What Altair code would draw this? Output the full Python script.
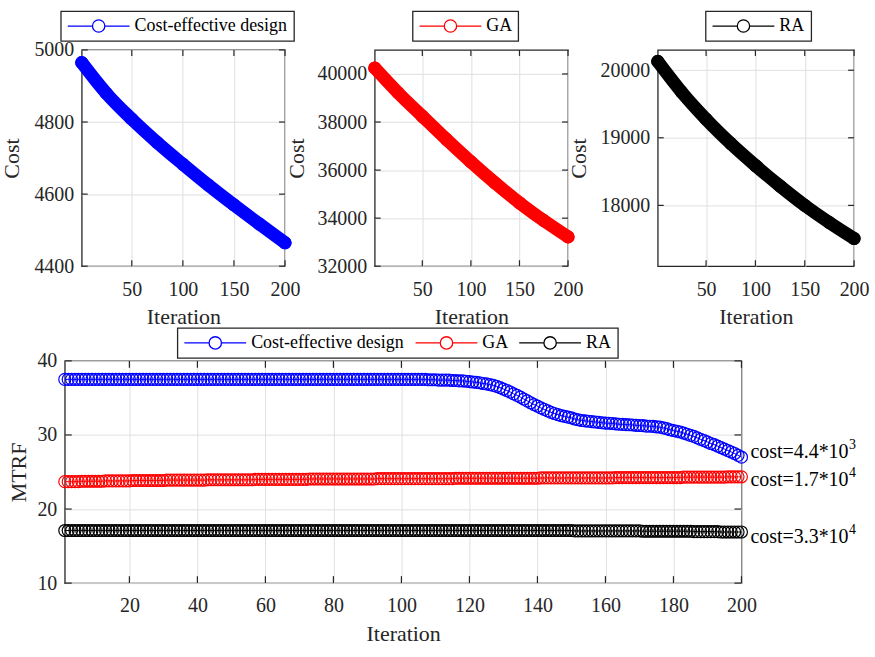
import altair as alt
import pandas as pd

FONT = "Liberation Serif"
INK = "#262626"
GRID = "#dfdfdf"
# legend glyph: a short line with an open circle in its middle
LEGEND_SYMBOL = "M-1,0L-0.2,0M0.2,0L1,0M-0.2,0A0.2,0.2,0,1,1,0.2,0A0.2,0.2,0,1,1,-0.2,0"

series_names = ["Cost-effective design", "GA", "RA"]
series_colors = ["#0000ff", "#ff0000", "#000000"]

# cost per iteration (upper panels), sampled along each curve
cost_iterations = [1, 25, 50, 75, 100, 125, 150, 175, 200]
cost_effective_cost = [4965, 4880, 4808, 4743, 4683, 4625, 4570, 4517, 4465]
ga_cost = [40250, 39220, 38240, 37270, 36340, 35460, 34640, 33900, 33220]
ra_cost = [20130, 19680, 19275, 18915, 18590, 18285, 18000, 17745, 17510]

# MTRF per iteration (lower panel)
iterations = list(range(1, 201))
mtrf_cost_effective = [
    37.5, 37.5, 37.5, 37.5, 37.5, 37.5, 37.5, 37.5, 37.5, 37.5, 37.5, 37.5, 37.5, 37.5, 37.5, 37.5, 37.5, 37.5, 37.5, 37.5,
    37.5, 37.5, 37.5, 37.5, 37.5, 37.5, 37.5, 37.5, 37.5, 37.5, 37.5, 37.5, 37.5, 37.5, 37.5, 37.5, 37.5, 37.5, 37.5, 37.5,
    37.5, 37.5, 37.5, 37.5, 37.5, 37.5, 37.5, 37.5, 37.5, 37.5, 37.5, 37.5, 37.5, 37.5, 37.5, 37.5, 37.5, 37.5, 37.5, 37.5,
    37.5, 37.5, 37.5, 37.5, 37.5, 37.5, 37.5, 37.5, 37.5, 37.5, 37.5, 37.5, 37.5, 37.5, 37.5, 37.5, 37.5, 37.5, 37.5, 37.5,
    37.5, 37.5, 37.5, 37.5, 37.5, 37.5, 37.5, 37.5, 37.5, 37.5, 37.5, 37.5, 37.5, 37.5, 37.5, 37.5, 37.5, 37.5, 37.5, 37.5,
    37.5, 37.5, 37.5, 37.5, 37.5, 37.5, 37.5, 37.45, 37.45, 37.45, 37.4, 37.4, 37.4, 37.4, 37.35, 37.35, 37.3, 37.3, 37.25, 37.2,
    37.15, 37.1, 37.05, 36.95, 36.9, 36.8, 36.7, 36.55, 36.4, 36.2, 36.0, 35.8, 35.55, 35.35, 35.1, 34.85, 34.6, 34.35, 34.1, 33.9,
    33.65, 33.45, 33.25, 33.05, 32.9, 32.75, 32.6, 32.5, 32.4, 32.3, 32.15, 32.05, 31.95, 31.9, 31.85, 31.8, 31.75, 31.7, 31.65, 31.6,
    31.58, 31.55, 31.5, 31.45, 31.43, 31.4, 31.38, 31.35, 31.3, 31.28, 31.25, 31.2, 31.18, 31.15, 31.1, 31.05, 30.95, 30.85, 30.7, 30.6,
    30.5, 30.4, 30.25, 30.1, 29.95, 29.8, 29.6, 29.4, 29.25, 29.05, 28.85, 28.7, 28.5, 28.3, 28.1, 27.9, 27.7, 27.5, 27.25, 27.0,
]
mtrf_ga = [
    23.7, 23.7, 23.7, 23.7, 23.7, 23.75, 23.75, 23.75, 23.75, 23.75, 23.75, 23.75, 23.8, 23.8, 23.8, 23.8, 23.8, 23.8, 23.8, 23.8,
    23.85, 23.85, 23.85, 23.85, 23.85, 23.85, 23.85, 23.85, 23.85, 23.85, 23.9, 23.9, 23.9, 23.9, 23.9, 23.9, 23.9, 23.9, 23.9, 23.9,
    23.9, 23.9, 23.95, 23.95, 23.95, 23.95, 23.95, 23.95, 23.95, 23.95, 23.95, 23.95, 23.95, 23.95, 23.95, 23.95, 24.0, 24.0, 24.0, 24.0,
    24.0, 24.0, 24.0, 24.0, 24.0, 24.0, 24.0, 24.0, 24.0, 24.0, 24.0, 24.0, 24.05, 24.05, 24.05, 24.05, 24.05, 24.05, 24.05, 24.05,
    24.05, 24.05, 24.05, 24.05, 24.05, 24.05, 24.05, 24.05, 24.05, 24.05, 24.05, 24.05, 24.1, 24.1, 24.1, 24.1, 24.1, 24.1, 24.1, 24.1,
    24.1, 24.1, 24.1, 24.1, 24.1, 24.1, 24.1, 24.1, 24.1, 24.1, 24.1, 24.1, 24.1, 24.1, 24.1, 24.15, 24.15, 24.15, 24.15, 24.15,
    24.15, 24.15, 24.15, 24.15, 24.15, 24.15, 24.15, 24.15, 24.15, 24.15, 24.15, 24.15, 24.15, 24.15, 24.15, 24.15, 24.15, 24.15, 24.15, 24.15,
    24.2, 24.2, 24.2, 24.2, 24.2, 24.2, 24.2, 24.2, 24.2, 24.2, 24.2, 24.2, 24.2, 24.2, 24.2, 24.2, 24.2, 24.2, 24.2, 24.2,
    24.2, 24.2, 24.25, 24.25, 24.25, 24.25, 24.25, 24.25, 24.25, 24.25, 24.25, 24.25, 24.25, 24.25, 24.25, 24.25, 24.25, 24.25, 24.25, 24.25,
    24.25, 24.25, 24.3, 24.3, 24.3, 24.3, 24.3, 24.3, 24.3, 24.3, 24.3, 24.3, 24.3, 24.3, 24.3, 24.35, 24.35, 24.35, 24.35, 24.35,
]
mtrf_ra = [
    17.1, 17.1, 17.1, 17.1, 17.1, 17.1, 17.1, 17.1, 17.1, 17.1, 17.1, 17.1, 17.1, 17.1, 17.1, 17.1, 17.1, 17.1, 17.1, 17.1,
    17.1, 17.1, 17.1, 17.1, 17.1, 17.1, 17.1, 17.1, 17.1, 17.1, 17.1, 17.1, 17.1, 17.1, 17.1, 17.1, 17.1, 17.1, 17.1, 17.1,
    17.1, 17.1, 17.1, 17.1, 17.1, 17.1, 17.1, 17.1, 17.1, 17.1, 17.1, 17.1, 17.1, 17.1, 17.1, 17.1, 17.1, 17.1, 17.1, 17.1,
    17.1, 17.1, 17.1, 17.1, 17.1, 17.1, 17.1, 17.1, 17.1, 17.1, 17.1, 17.1, 17.1, 17.1, 17.1, 17.1, 17.1, 17.1, 17.1, 17.1,
    17.1, 17.1, 17.1, 17.1, 17.1, 17.1, 17.1, 17.1, 17.1, 17.1, 17.1, 17.1, 17.1, 17.1, 17.1, 17.1, 17.1, 17.1, 17.1, 17.1,
    17.1, 17.1, 17.1, 17.1, 17.1, 17.1, 17.1, 17.1, 17.1, 17.1, 17.1, 17.1, 17.1, 17.1, 17.1, 17.1, 17.1, 17.1, 17.1, 17.1,
    17.1, 17.1, 17.1, 17.1, 17.1, 17.1, 17.1, 17.1, 17.1, 17.1, 17.1, 17.1, 17.1, 17.1, 17.1, 17.1, 17.1, 17.1, 17.1, 17.1,
    17.1, 17.1, 17.1, 17.1, 17.1, 17.1, 17.1, 17.1, 17.1, 17.1, 17.05, 17.05, 17.05, 17.05, 17.05, 17.05, 17.05, 17.05, 17.05, 17.05,
    17.05, 17.05, 17.05, 17.05, 17.05, 17.05, 17.05, 17.05, 17.05, 17.05, 17.0, 17.0, 17.0, 17.0, 17.0, 17.0, 17.0, 17.0, 17.0, 17.0,
    17.0, 17.0, 17.0, 17.0, 17.0, 16.95, 16.95, 16.95, 16.95, 16.95, 16.95, 16.95, 16.95, 16.9, 16.9, 16.9, 16.9, 16.9, 16.9, 16.9,
]

# final-cost notes at the right end of the MTRF curves (mantissa text + power of ten)
end_labels = ["cost=4.4*10", "cost=1.7*10", "cost=3.3*10"]
end_exponents = ["3", "4", "4"]
end_label_mtrf = [27.66, 23.98, 16.25]

top_x_ticks = [50, 100, 150, 200]
bottom_x_ticks = [20, 40, 60, 80, 100, 120, 140, 160, 180, 200]
mtrf_ticks = [10, 20, 30, 40]

TOP_H = 217
BOTTOM_W, BOTTOM_H = 679, 223
# the upper row counts as zero height in a flush layout, so the gap
# below it has to cover the row height as well
ROW_GAP = TOP_H + 95
NOTE_DX = 9          # gap between the last marker and the note
EXPONENT_DX = NOTE_DX + 99  # the mantissa texts all share one width


def inner_ticks(x_enc, y_enc, x_field, x_vals, y_field, y_vals, w, h, size):
    """Tick marks pointing into the plot on all four sides of the box."""
    xt = alt.Chart(pd.DataFrame({x_field: x_vals})).mark_rule(color=INK, strokeWidth=1.2)
    yt = alt.Chart(pd.DataFrame({y_field: y_vals})).mark_rule(color=INK, strokeWidth=1.2)
    return [
        xt.encode(x=x_enc, y=alt.value(h), y2=alt.value(h - size)),
        xt.encode(x=x_enc, y=alt.value(0), y2=alt.value(size)),
        yt.encode(y=y_enc, x=alt.value(0), x2=alt.value(size)),
        yt.encode(y=y_enc, x=alt.value(w), x2=alt.value(w - size)),
    ]


def cost_panel(name, color, values, y_domain, y_ticks, title_x, legend_x, width):
    x_enc = alt.X(
        "Iteration:Q",
        scale=alt.Scale(domain=[1, 200], nice=False, zero=False),
        axis=alt.Axis(values=top_x_ticks, title="Iteration", titleY=50, labelPadding=23),
    )
    y_enc = alt.Y(
        "Cost:Q",
        scale=alt.Scale(domain=y_domain, nice=False, zero=False),
        axis=alt.Axis(values=y_ticks, format="d", title="Cost", titleX=title_x),
    )
    df = pd.DataFrame({"Iteration": cost_iterations, "Cost": values, "Series": name})
    base = alt.Chart(df)
    band = base.mark_line(
        color=color, strokeWidth=13, strokeCap="round", strokeJoin="round", interpolate="monotone"
    ).encode(x=x_enc, y=y_enc)
    rings = base.mark_point(shape="circle", filled=False, size=144, strokeWidth=1.2, opacity=1).encode(
        x=x_enc,
        y=y_enc,
        color=alt.Color(
            "Series:N",
            scale=alt.Scale(domain=[name], range=[color]),
            legend=alt.Legend(title=None, orient="none", legendX=legend_x, legendY=-39),
        ),
    )
    layers = inner_ticks(x_enc, y_enc, "Iteration", top_x_ticks, "Cost", y_ticks, width, TOP_H, 6)
    return alt.layer(*layers, band, rings).properties(
        width=width, height=TOP_H, view=alt.ViewBackground(stroke=INK, strokeWidth=1.3)
    )


def spacer(w):
    return alt.Chart(pd.DataFrame({"v": [0]})).mark_point(opacity=0).properties(width=w, height=TOP_H)


p1 = cost_panel(series_names[0], series_colors[0], cost_effective_cost, [4400, 5000],
                [4400, 4600, 4800, 5000], -70, -21, 204)
p2 = cost_panel(series_names[1], series_colors[1], ga_cost, [32000, 41000],
                [32000, 34000, 36000, 38000, 40000], -78, 38, 194)
p3 = cost_panel(series_names[2], series_colors[2], ra_cost, [17100, 20300],
                [18000, 19000, 20000], -79, 48, 197)

top_row = alt.hconcat(
    spacer(17), p1, spacer(90), p2, spacer(90), p3, spacing=0, bounds="flush"
).resolve_scale(color="independent", x="independent", y="independent").resolve_legend(color="independent")

# lower panel: MTRF of the three approaches
mtrf_df = pd.DataFrame({
    "Iteration": iterations * 3,
    "MTRF": mtrf_cost_effective + mtrf_ga + mtrf_ra,
    "Series": [n for n in series_names for _ in iterations],
})
label_df = pd.DataFrame({
    "Iteration": [200, 200, 200],
    "MTRF": end_label_mtrf,
    "Label": end_labels,
    "Exponent": end_exponents,
})

bx = alt.X(
    "Iteration:Q",
    scale=alt.Scale(domain=[1, 200], nice=False, zero=False),
    axis=alt.Axis(values=bottom_x_ticks, title="Iteration", titleY=51, labelPadding=22),
)
by = alt.Y(
    "MTRF:Q",
    scale=alt.Scale(domain=[10, 40], nice=False, zero=False),
    axis=alt.Axis(values=mtrf_ticks, title="MTRF", titleX=-46),
)
bcolor = alt.Color(
    "Series:N",
    scale=alt.Scale(domain=series_names, range=series_colors),
    legend=alt.Legend(title=None, orient="none", legendX=113, legendY=-33, direction="horizontal"),
)
mbase = alt.Chart(mtrf_df)
mlines = mbase.mark_line(strokeWidth=1).encode(x=bx, y=by, color=bcolor)
mrings = mbase.mark_point(shape="circle", filled=False, size=144, strokeWidth=1.2, opacity=1).encode(
    x=bx, y=by, color=bcolor
)
note_base = alt.Chart(label_df)
mlabels = note_base.mark_text(
    align="left", baseline="middle", dx=NOTE_DX, fontSize=20, font=FONT, color="black"
).encode(x=bx, y=by, text="Label:N")
mpowers = note_base.mark_text(
    align="left", baseline="middle", dx=EXPONENT_DX, dy=-7, fontSize=14, font=FONT, color="black"
).encode(x=bx, y=by, text="Exponent:N")

bottom = alt.layer(
    *inner_ticks(bx, by, "Iteration", bottom_x_ticks, "MTRF", mtrf_ticks, BOTTOM_W, BOTTOM_H, 7),
    mlines, mrings, mlabels, mpowers,
).properties(width=BOTTOM_W, height=BOTTOM_H, view=alt.ViewBackground(stroke=INK, strokeWidth=1.3))

chart = (
    alt.vconcat(top_row, bottom, spacing=ROW_GAP, bounds="flush")
    .resolve_scale(color="independent", x="independent", y="independent")
    .resolve_legend(color="independent")
    .properties(padding={"left": 0, "top": 8, "right": 5, "bottom": 5})
    .configure(font=FONT)
    .configure_view(stroke="transparent")
    .configure_axis(
        labelFont=FONT, labelFontSize=20, labelColor=INK, labelFlush=False, labelPadding=8,
        titleFont=FONT, titleFontSize=22, titleFontWeight="normal", titleColor=INK,
        titleBaseline="middle", grid=True, gridColor=GRID, gridWidth=1,
        domain=False, ticks=False, tickSize=0,
    )
    .configure_axisX(labelBaseline="middle")
    .configure_legend(
        labelFont=FONT, labelFontSize=18, labelColor="black", labelOffset=4,
        strokeColor=INK, strokeWidth=1.3, fillColor="white", padding=6, clipHeight=18,
        symbolType=LEGEND_SYMBOL, symbolSize=3844, symbolStrokeWidth=1.3, columnPadding=10,
    )
)

chart.save("out.html", embed_options={"renderer": "svg", "actions": False})
